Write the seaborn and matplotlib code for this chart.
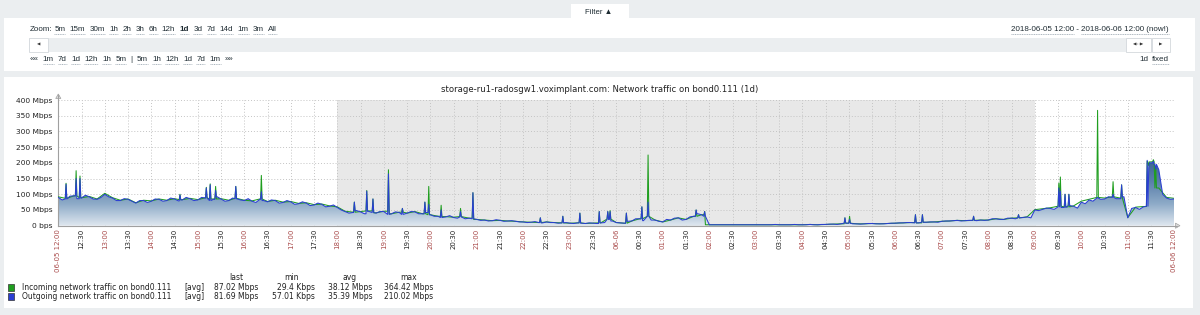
import numpy as np
import pandas as pd
import matplotlib
matplotlib.use('Agg')
import matplotlib.pyplot as plt
import matplotlib.dates as mdates
from matplotlib.patches import Rectangle, Polygon
from matplotlib.colors import LinearSegmentedColormap
import seaborn as sns

# ------------------------------------------------------------------ data
START = '2018-06-05 12:00'
END = '2018-06-06 12:00'
STEP_OUT = '5min'
STEP_IN = '10min'

# outgoing traffic, Mbps, one value every 5 minutes from 06-05 12:00 to 06-06 12:00
outgoing_base = [
    90, 82, 85, 94, 95, 86, 88, 97, 92, 85, 84, 90,      # 12h
    100, 92, 88, 80, 80, 86, 84, 78, 72, 80, 80, 74,     # 13h
    78, 85, 84, 78, 80, 88, 85, 79, 82, 90, 86, 80,      # 14h
    82, 90, 88, 80, 84, 92, 85, 78, 80, 88, 86, 82,      # 15h
    80, 86, 78, 74, 84, 80, 76, 82, 80, 72, 74, 80,      # 16h
    76, 68, 70, 76, 72, 64, 66, 72, 68, 60, 62, 66,      # 17h
    58, 50, 45, 40, 42, 48, 44, 38, 46, 42, 40, 45,      # 18h
    45, 36, 38, 44, 42, 36, 40, 45, 44, 38, 38, 42,      # 19h
    35, 30, 30, 26, 28, 32, 26, 24, 28, 22, 24, 22,      # 20h
    20, 17, 18, 15, 16, 19, 17, 14, 15, 16, 14, 12,      # 21h
    12, 10, 11, 13, 10, 9, 12, 10, 10, 8, 9, 10,         # 22h
    8, 7, 9, 8, 7, 9, 8, 7, 9, 10, 20, 15,               # 23h
    10, 9, 8, 14, 15, 22, 22, 16, 30, 18, 18, 14,        # 00h
    12, 20, 18, 24, 25, 18, 20, 28, 30, 38, 35, 30,      # 01h
    3, 3, 3, 3, 3, 3, 3, 3, 3, 3, 3, 3,                  # 02h
    3, 3, 3, 3, 3, 4, 3, 3, 3, 3, 4, 3,                  # 03h
    3, 3, 4, 3, 3, 4, 4, 5, 5, 4, 6, 8,                  # 04h
    8, 6, 6, 5, 6, 7, 7, 6, 6, 6, 7, 8,                  # 05h
    8, 9, 9, 10, 10, 9, 9, 11, 11, 12, 12, 11,           # 06h
    14, 15, 15, 16, 17, 15, 16, 17, 17, 16, 18, 17,      # 07h
    18, 22, 22, 20, 20, 24, 24, 22, 25, 26, 28, 25,      # 08h
    50, 48, 52, 56, 55, 52, 60, 58, 58, 64, 62, 56,      # 09h
    75, 70, 82, 78, 88, 84, 85, 92, 90, 86, 86, 92,      # 10h
    25, 55, 58, 52, 60, 62, 200, 195, 178, 100, 88, 84,  # 11h
    85,
]
# incoming traffic, Mbps, one value every 10 minutes
incoming_base = [
    92, 87, 95, 89, 93, 85,
    103, 89, 81, 85, 73, 81,
    79, 85, 81, 86, 83, 87,
    83, 89, 85, 86, 81, 87,
    81, 79, 85, 77, 81, 75,
    77, 71, 73, 67, 69, 63,
    60, 46, 43, 45, 47, 41,
    46, 38, 43, 40, 45, 38,
    35, 30, 29, 27, 29, 24,
    20, 18, 16, 17, 15, 14,
    12, 11, 10, 12, 10, 9,
    8, 9, 7, 8, 9, 21,
    10, 8, 15, 22, 30, 18,
    12, 18, 25, 20, 30, 35,
    3, 3, 3, 3, 3, 3,
    3, 3, 3, 3, 3, 3,
    3, 4, 3, 4, 5, 6,
    8, 6, 6, 7, 6, 7,
    8, 9, 10, 9, 11, 12,
    14, 15, 17, 16, 17, 18,
    18, 22, 20, 24, 25, 28,
    51, 54, 57, 62, 60, 63,
    78, 84, 90, 88, 92, 88,
    26, 59, 61, 203, 120, 90,
    87,
]

# short single-sample spikes
spike_times = ['06-05 12:10', '06-05 12:23', '06-05 12:28', '06-05 14:37', '06-05 15:11',
               '06-05 15:16', '06-05 15:23', '06-05 15:49', '06-05 16:22', '06-05 18:22',
               '06-05 18:38', '06-05 18:46', '06-05 19:06', '06-05 19:24', '06-05 19:53',
               '06-05 19:58', '06-05 20:14', '06-05 20:39', '06-05 20:55', '06-05 22:22',
               '06-05 22:51', '06-05 23:13', '06-05 23:38', '06-05 23:49', '06-05 23:52',
               '06-06 00:13', '06-06 00:33', '06-06 00:41', '06-06 01:43', '06-06 01:54',
               '06-06 04:55', '06-06 05:01', '06-06 06:26', '06-06 06:35', '06-06 07:41',
               '06-06 08:39', '06-06 09:31', '06-06 09:33', '06-06 09:39', '06-06 09:44',
               '06-06 10:21', '06-06 10:41', '06-06 10:52', '06-06 11:25', '06-06 11:27',
               '06-06 11:33', '06-06 11:36']
spike_in = [135, 175, 158, 100, 122, 133, 125, 125, 160, 75, 112, 85, 178, 55, 75, 125, 65,
            55, 105, 25, 30, 40, 45, 45, 48, 40, 60, 225, 50, 45, 25, 30, 35, 35, 30, 35,
            135, 155, 100, 100, 367, 140, 130, 205, 190, 210, 185]
spike_out = [132, 150, 150, 98, 120, 130, 112, 125, 108, 75, 110, 85, 165, 55, 75, 68, 50,
             45, 105, 25, 30, 40, 45, 45, 45, 40, 60, 75, 50, 45, 25, 20, 35, 35, 30, 35,
             120, 110, 100, 100, 90, 100, 130, 208, 185, 205, 180]

series_names = ['Incoming network traffic on bond0.111', 'Outgoing network traffic on bond0.111']
series_colors = ['#1f9e1f', '#2a3ed2']
legend_func = ['[avg]', '[avg]']
legend_last = ['87.02 Mbps', '81.69 Mbps']
legend_min = ['29.4 Kbps', '57.01 Kbps']
legend_avg = ['38.12 Mbps', '35.39 Mbps']
legend_max = ['364.42 Mbps', '210.02 Mbps']

y_ticks = [0, 50, 100, 150, 200, 250, 300, 350, 400]
y_tick_labels = ['0 bps', '50 Mbps', '100 Mbps', '150 Mbps', '200 Mbps', '250 Mbps',
                 '300 Mbps', '350 Mbps', '400 Mbps']
work_start = '2018-06-06 09:00'   # non-working period shaded: 18:00 .. 09:00
work_end = '2018-06-05 18:00'

title = 'storage-ru1-radosgw1.voximplant.com: Network traffic on bond0.111 (1d)'
zoom_links = ['5m', '15m', '30m', '1h', '2h', '3h', '6h', '12h', '1d', '3d', '7d', '14d', '1m', '3m', 'All']
nav_links = ['««', '1m', '7d', '1d', '12h', '1h', '5m', '|', '5m', '1h', '12h', '1d', '7d', '1m', '»»']
period_text = ['2018-06-05 12:00', ' - ', '2018-06-06 12:00', ' (now!)']

# ------------------------------------------------------------------ frame
assert len(outgoing_base) == 289 and len(incoming_base) == 145
sp_t = pd.to_datetime(['2018-' + s for s in spike_times], format='%Y-%m-%d %H:%M')

rows = []
for name, sv, bv, stp in (('in', spike_in, incoming_base, STEP_IN),
                          ('out', spike_out, outgoing_base, STEP_OUT)):
    base_t = pd.date_range(START, END, freq=stp)
    t0, step = base_t[0], pd.Timedelta(stp)

    def nearest_base(ts):
        i = int(round((ts - t0) / step))
        return bv[min(max(i, 0), len(bv) - 1)]

    for ts, v in zip(sp_t, sv):
        rows.append((name, ts, v, 0))
    for ts, v in zip(base_t, bv):
        rows.append((name, ts, v, 1))
    for ts in sp_t:
        for d in (-1, 1):
            st = ts + pd.Timedelta(minutes=d)
            rows.append((name, st, nearest_base(st), 2))
df = pd.DataFrame(rows, columns=['series', 'time', 'value', 'prio'])
df = df.sort_values(['series', 'time', 'prio']).drop_duplicates(['series', 'time'], keep='first')
df = df.sort_values(['series', 'time']).reset_index(drop=True)

# ------------------------------------------------------------------ figure
sns.set_style('white')
plt.rcParams['font.family'] = ['DejaVu Sans']
W, H = 1200, 315
fig = plt.figure(figsize=(12, 3.15), dpi=100, facecolor='#ebeef0')

bg = fig.add_axes([0, 0, 1, 1])
bg.set_xlim(0, W)
bg.set_ylim(H, 0)
bg.axis('off')
bg.patch.set_alpha(0)

UI = ['Liberation Sans', 'DejaVu Sans']
UI_COL = '#1f2c33'

# panels
bg.add_patch(Rectangle((571, 4), 58, 15, facecolor='white', edgecolor='none'))
bg.text(599, 12, 'Filter ▲', family=UI, fontsize=5.6, color=UI_COL, ha='center', va='center')
bg.add_patch(Rectangle((4, 18), 1191, 52.5, facecolor='white', edgecolor='none'))
bg.add_patch(Rectangle((4, 77), 1189, 231, facecolor='white', edgecolor='none'))
# slider bar
bg.add_patch(Rectangle((29, 37.5), 1141, 14, facecolor='#ebeef0', edgecolor='none'))
for (x0, w, lab) in ((29, 19, '◀'), (1126, 25, '◀:::▶'), (1152, 18, '▶')):
    bg.add_patch(Rectangle((x0, 37.5), w, 14, facecolor='white', edgecolor='#d3d8dc', lw=0.6))
    bg.text(x0 + w / 2, 44.7, lab, family=['DejaVu Sans'], fontsize=3.2, color='#333',
            ha='center', va='center')

fig.canvas.draw()
renderer = fig.canvas.get_renderer()
inv = bg.transData.inverted()

def width_of(t):
    bb = t.get_window_extent(renderer=renderer)
    (x0, _), (x1, _) = inv.transform([[bb.x0, bb.y0], [bb.x1, bb.y1]])
    return x1 - x0

def link(x, y, s, underline=True, bold=False, ha='left'):
    t = bg.text(x, y, s, family=UI, fontsize=5.8, color=UI_COL, ha=ha, va='center',
                fontweight='bold' if bold else 'normal')
    w = width_of(t)
    xs = x if ha == 'left' else x - w
    if underline:
        bg.plot([xs, xs + w], [y + 4.6, y + 4.6], color='#8c9aa6', lw=0.5,
                linestyle=(0, (1.5, 1)), solid_capstyle='butt')
    return w

x = 29.3
x += link(x, 29.5, 'Zoom:', underline=False) + 2.5
for s in zoom_links:
    x += link(x, 29.5, s, bold=(s == '1d')) + 4.3
x = 29.3
for s in nav_links:
    x += link(x, 59.5, s, underline=s not in ('««', '|', '»»')) + 4.3

# right side texts (right aligned)
xr = 1169
for s in reversed(period_text):
    xr -= link(xr, 29.5, s, underline=s.strip() not in ('-',), ha='right')
xr = 1169
xr -= link(xr, 59.5, 'fixed', ha='right') + 4
link(xr, 59.5, '1d', underline=False, ha='right')

# ------------------------------------------------------------------ graph
GL, GR, GT, GB = 58.3, 1174.3, 100.0, 225.7
ax = fig.add_axes([GL / W, 1 - GB / H, (GR - GL) / W, (GB - GT) / H])
ax.patch.set_alpha(0)

x_lo = mdates.date2num(pd.Timestamp(START))
x_hi = mdates.date2num(pd.Timestamp(END))

# shaded non-working period
ax.axvspan(mdates.date2num(pd.Timestamp(work_end)), mdates.date2num(pd.Timestamp(work_start)),
           facecolor='#e8e8e8', edgecolor='none', zorder=0)

sns.lineplot(data=df, x='time', y='value', hue='series', hue_order=['in', 'out'],
             palette={'in': series_colors[0], 'out': series_colors[1]},
             estimator=None, sort=True, legend=False, linewidth=0.75, ax=ax, zorder=4)

# gradient fill under outgoing traffic
out_df = df[df.series == 'out'].sort_values('time')
xs = mdates.date2num(out_df['time'])
poly = ax.fill_between(xs, 0, out_df['value'].to_numpy(), facecolor='none', edgecolor='none')
clip = poly.get_paths()[0]
grad = np.clip(np.linspace(0, 400, 400) / 210.0, 0, 1).reshape(-1, 1)
cmap = LinearSegmentedColormap.from_list('zbx', ['#dfe7ef', '#8eabc8', '#5b80ab', '#3b6293'])
im = ax.imshow(grad, extent=[x_lo, x_hi, 0, 400], origin='lower', aspect='auto', cmap=cmap,
               vmin=0, vmax=1, zorder=2, interpolation='bilinear')
im.set_clip_path(clip, transform=ax.transData)

ax.set_xlim(x_lo, x_hi)
ax.set_ylim(0, 400)

# ticks
tick_t = pd.date_range(START, END, freq='30min')
labels, colors = [], []
for t in tick_t:
    if t == tick_t[0] or t == tick_t[-1]:
        lab = t.strftime('%m-%d %H:%M')
    elif t.hour == 0 and t.minute == 0:
        lab = t.strftime('%m-%d')
    else:
        lab = t.strftime('%H:%M')
    labels.append(lab)
    colors.append('#a94a4a' if t.minute == 0 else '#222222')
ax.set_xticks(mdates.date2num(tick_t))
ax.set_xticklabels(labels, rotation=90, fontsize=5.0, va='top', ha='center')
for lab, c in zip(ax.get_xticklabels(), colors):
    lab.set_color(c)
ax.set_yticks(y_ticks)
ax.set_yticklabels(y_tick_labels, fontsize=5.4, color='#222222')
ax.tick_params(axis='both', length=0)
ax.tick_params(axis='x', pad=2.2)
ax.tick_params(axis='y', pad=4.0)
ax.set_xlabel('')
ax.set_ylabel('')

ax.grid(True, color='#c4c4c4', linestyle=(0, (1, 2)), linewidth=0.7, zorder=1)
ax.set_axisbelow(True)
for s in ('top', 'right'):
    ax.spines[s].set_visible(False)
for s in ('left', 'bottom'):
    ax.spines[s].set_color('#a0a0a0')
    ax.spines[s].set_linewidth(0.8)

# axis arrows and extension
bg.plot([GL, GL], [GT, 95], color='#a0a0a0', lw=0.8)
bg.add_patch(Polygon([[GL - 2.6, 98.5], [GL + 2.6, 98.5], [GL, 94]], closed=True,
                     facecolor='#dddddd', edgecolor='#a0a0a0', lw=0.5))
bg.plot([GR, 1177], [GB, GB], color='#a0a0a0', lw=0.8)
bg.add_patch(Polygon([[1175.5, GB - 2.6], [1175.5, GB + 2.6], [1180, GB]], closed=True,
                     facecolor='#dddddd', edgecolor='#a0a0a0', lw=0.5))

bg.text(600, 89.5, title, fontsize=6.1, color='#222222', ha='center', va='center')

# legend
LF = 5.5
for hx, hs in ((236.7, 'last'), (291.7, 'min'), (349.3, 'avg'), (409, 'max')):
    bg.text(hx, 277.8, hs, fontsize=LF, color='#222222', ha='center', va='center')
for i, yy in enumerate((287.2, 296.2)):
    bg.add_patch(Rectangle((7.5, yy - 3.2), 6.5, 6.5, facecolor=series_colors[i],
                           edgecolor='#333333', lw=0.5))
    bg.text(21.5, yy, series_names[i], fontsize=LF, color='#222222', va='center')
    bg.text(184.3, yy, legend_func[i], fontsize=LF, color='#222222', va='center')
    bg.text(258.7, yy, legend_last[i], fontsize=LF, color='#222222', va='center', ha='right')
    bg.text(315, yy, legend_min[i], fontsize=LF, color='#222222', va='center', ha='right')
    bg.text(372.3, yy, legend_avg[i], fontsize=LF, color='#222222', va='center', ha='right')
    bg.text(433, yy, legend_max[i], fontsize=LF, color='#222222', va='center', ha='right')

fig.savefig('out.png', dpi=100, facecolor=fig.get_facecolor())
